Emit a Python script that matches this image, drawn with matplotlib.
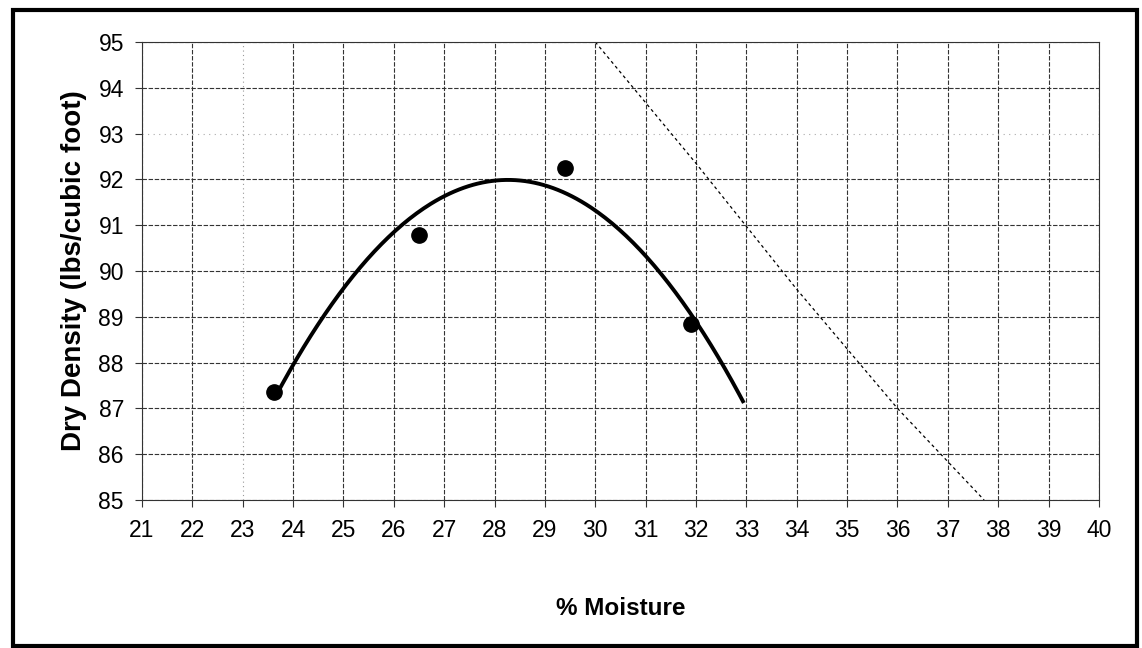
import numpy as np
import matplotlib.pyplot as plt
from matplotlib.patches import Rectangle

plt.rcParams['font.family'] = ['Liberation Sans', 'DejaVu Sans']

# proctor test points
moisture = [23.62, 26.5, 29.39, 31.91]
density = [87.36, 90.79, 92.25, 88.84]

# zero air voids line
zav_moisture = [30.0, 32.0, 34.0, 36.0, 37.72]
zav_density = [95.0, 92.35, 89.6, 87.0, 85.0]

x_ticks = list(range(21, 41))
y_ticks = list(range(85, 96))

# 2nd order trendline, extended forward to 33 like the excel chart
coef = np.polyfit(moisture, density, 2)
x_fit = np.linspace(23.65, 32.95, 200)
y_fit = np.polyval(coef, x_fit)

fig = plt.figure(figsize=(11.42, 6.48), dpi=100)
ax = fig.add_axes([0.1243, 0.2284, 0.9623 - 0.1243, 0.9352 - 0.2284])

ax.plot(zav_moisture, zav_density, color='black', linestyle=(0, (2.5, 2.5)), linewidth=0.9)
ax.plot(x_fit, y_fit, color='black', linewidth=2.8, solid_capstyle='butt')
ax.plot(moisture, density, 'o', color='black', markersize=11)

ax.set_xlim(21, 40)
ax.set_ylim(85, 95)
ax.set_xticks(x_ticks)
ax.set_yticks(y_ticks)
ax.tick_params(axis='both', labelsize=16.5, length=5, width=0.8, direction='out', color='#333333')
ax.tick_params(axis='x', pad=9)
ax.tick_params(axis='y', pad=8)

ax.grid(True, color='#333333', linestyle=(0, (4, 1.5)), linewidth=0.8)
ax.set_axisbelow(True)
# scanned copy: a couple of gridlines came out very faint
ax.get_ygridlines()[8].set(color='#aaaaaa', linestyle=(0, (1, 4)))
ax.get_xgridlines()[2].set(color='#999999', linestyle=(0, (1, 3)))

for s in ax.spines.values():
    s.set_color('#333333')
    s.set_linewidth(0.8)

ax.set_xlabel('% Moisture', fontsize=17.5, fontweight='bold', labelpad=39)
ax.set_ylabel('Dry Density (lbs/cubic foot)', fontsize=20, fontweight='bold', labelpad=8)

# frame around the page
fig.patches.append(Rectangle((13 / 1142, 2 / 648), 1124 / 1142, 636 / 648,
                             transform=fig.transFigure, fill=False,
                             edgecolor='black', linewidth=3))

fig.savefig('out.png', dpi=100)
